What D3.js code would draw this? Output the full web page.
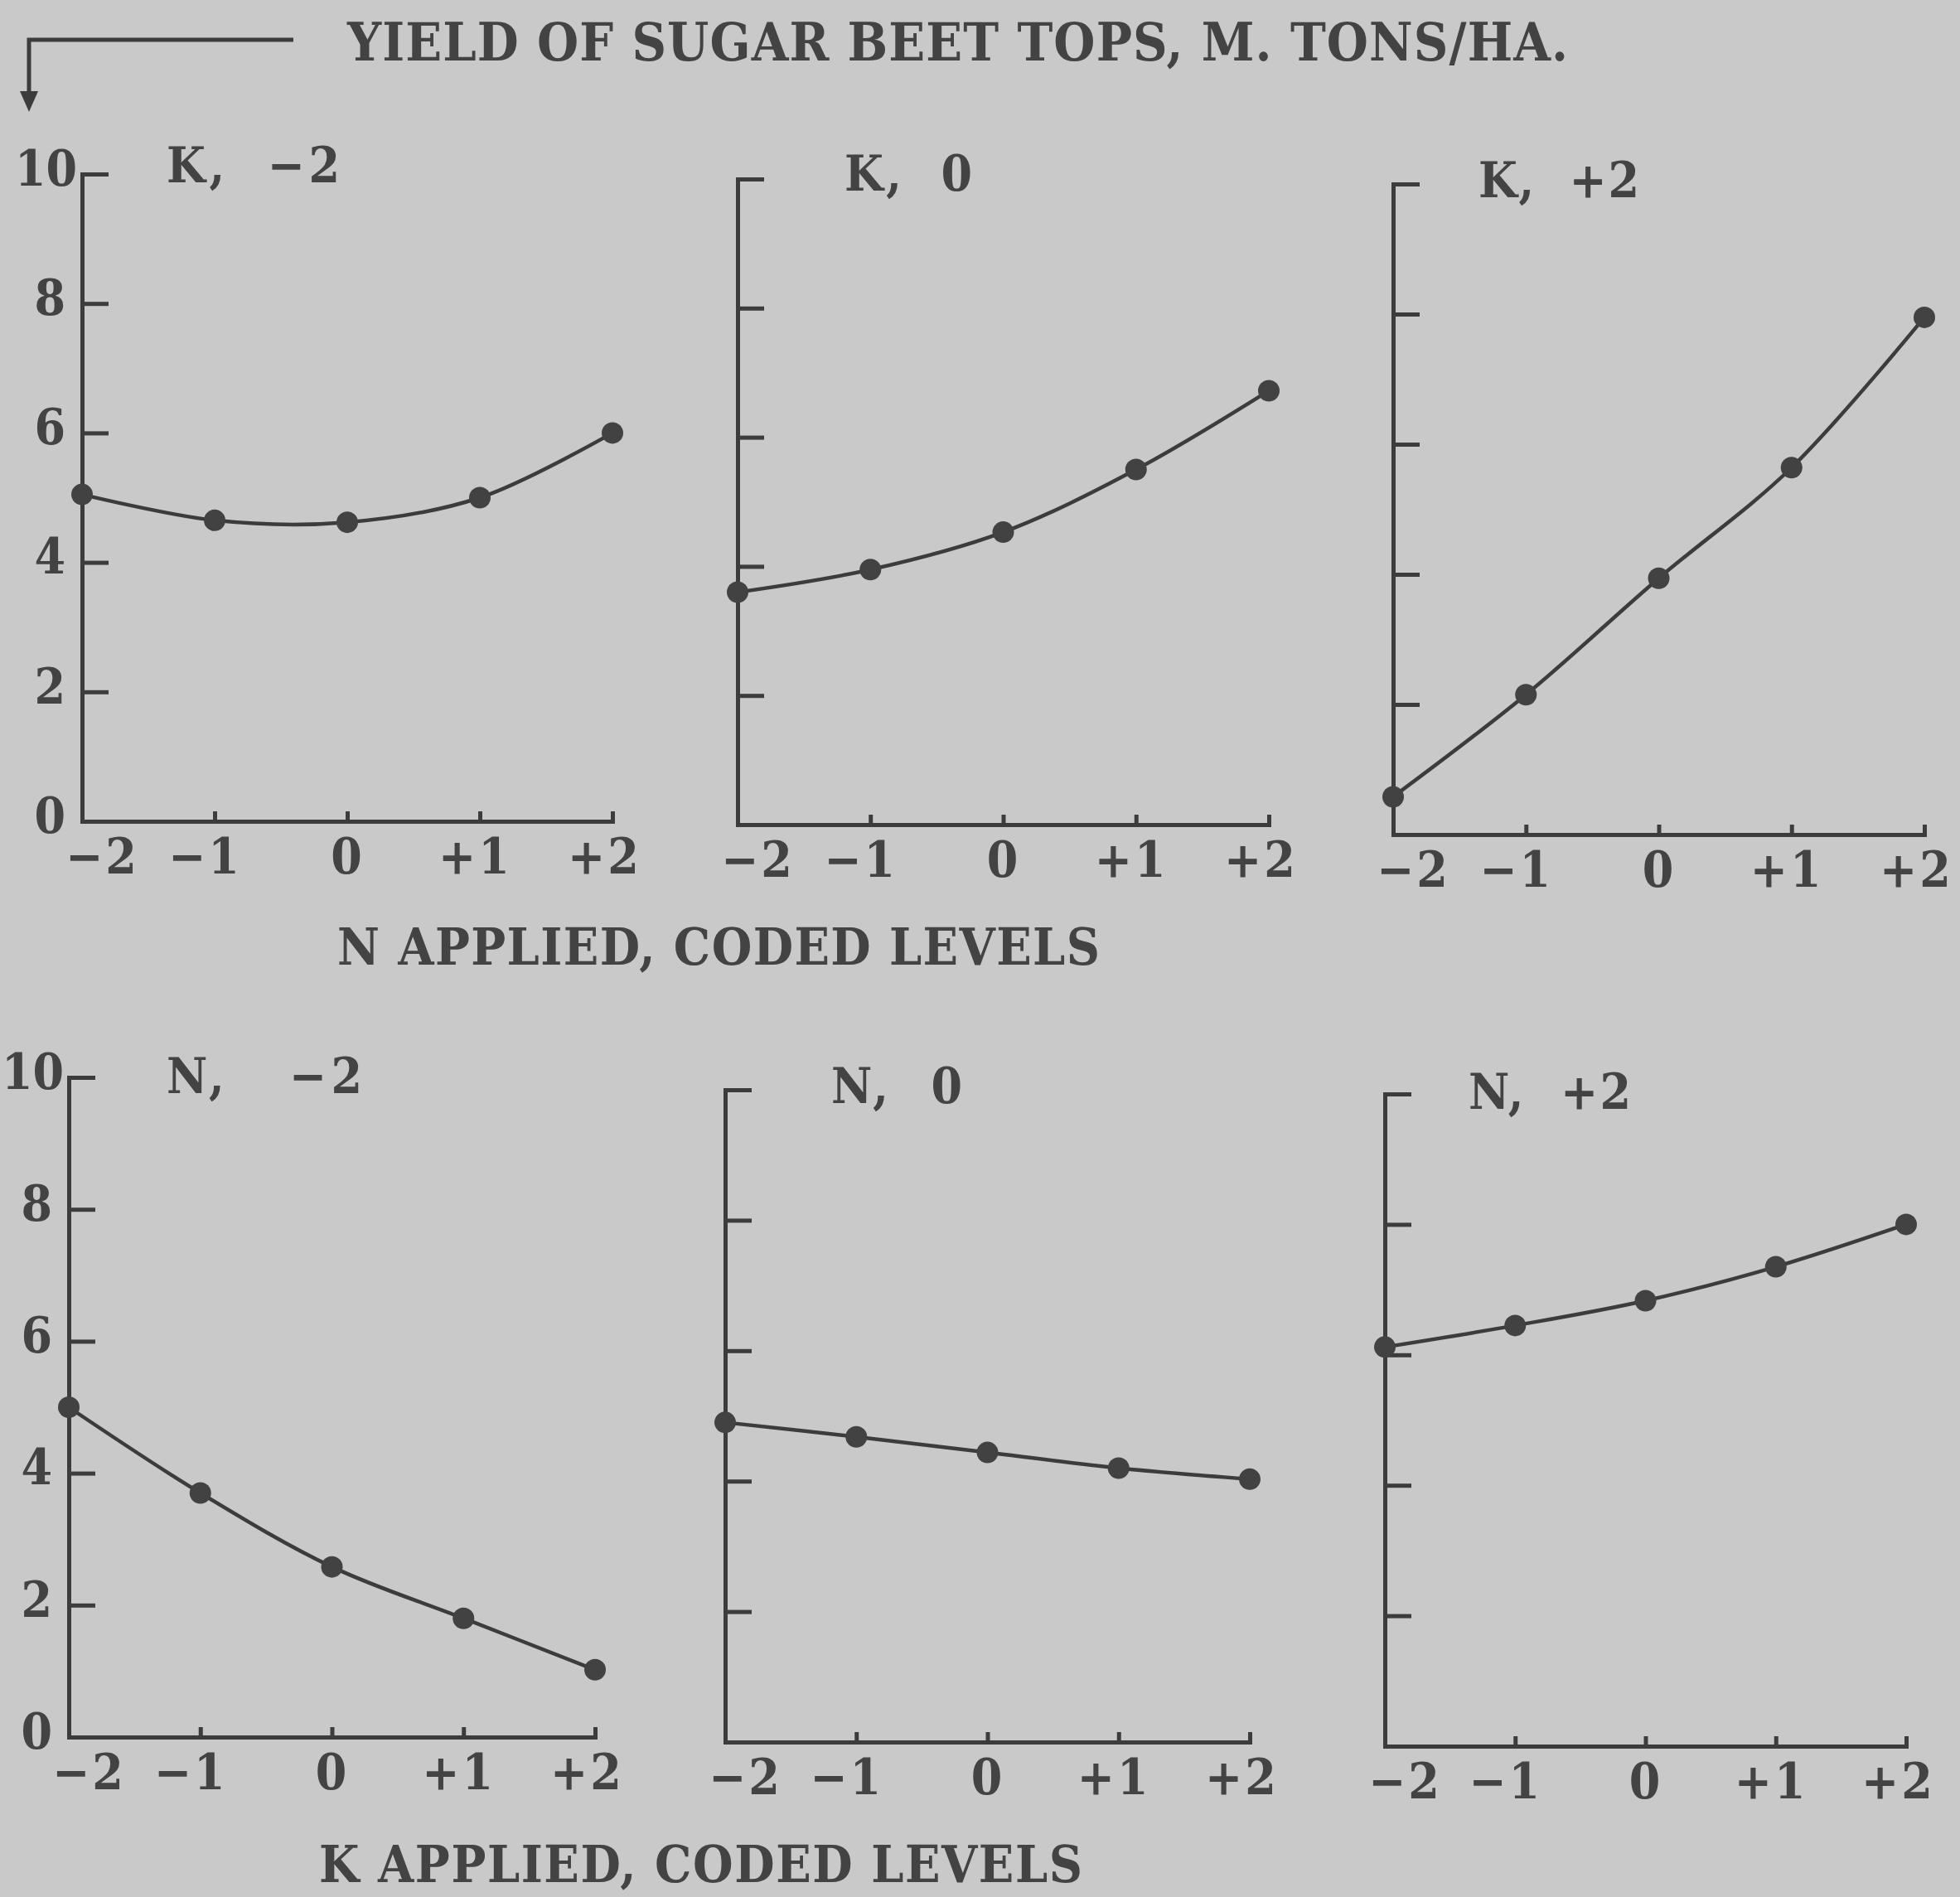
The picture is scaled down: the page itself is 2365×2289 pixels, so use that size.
<!DOCTYPE html>
<html lang="en">
<head>
  <meta charset="UTF-8" />
  <title>Yield of sugar beet tops</title>
  <script src="https://cdn.jsdelivr.net/npm/d3@7/dist/d3.min.js"></script>
  <style>
    body, html { margin: 0; padding: 0; background: #c9c9c9; }
    svg { display: block; }
    text { font-family: "DejaVu Serif Condensed", "DejaVu Serif", serif; font-stretch: condensed;
           font-weight: bold; fill: #434343; }
    .axis path, .axis line { stroke: #3c3c3c; stroke-width: 5; }
    .axis text { font-size: 60px; letter-spacing: 3px; font-family: "DejaVu Serif Condensed", "DejaVu Serif", serif; }
    .axis.yax text { letter-spacing: 0; }
  </style>
</head>
<body>
  <svg id="chart" width="2365" height="2289"></svg>

  <script>
    // Coded fertiliser levels on the x axis
    const levels = [-2, -1, 0, 1, 2];
    const levelLabels = ["\u22122", "\u22121", "0", "+1", "+2"];
    const yTicks = [0, 2, 4, 6, 8, 10];

    // Yield of tops (m. tons/ha) vs N level, at fixed K
    const topsK_minus2 = [5.05, 4.65, 4.62, 5.0, 6.0];
    const topsK_0      = [3.6, 3.95, 4.53, 5.5, 6.72];
    const topsK_plus2  = [0.58, 2.15, 3.94, 5.64, 7.95];

    // Yield of tops vs K level, at fixed N
    const topsN_minus2 = [5.0, 3.7, 2.58, 1.8, 1.02];
    const topsN_0      = [4.9, 4.68, 4.44, 4.2, 4.03];
    const topsN_plus2  = [6.12, 6.45, 6.83, 7.35, 8.0];

    const panelTitles = ["K,  \u22122", "K,  0", "K,  +2", "N,   \u22122", "N,  0", "N,  +2"];
    const panelSeries = [topsK_minus2, topsK_0, topsK_plus2, topsN_minus2, topsN_0, topsN_plus2];

    // Frame of each panel: x of level -2 and +2, y of yield 0 and 10
    const frames = [
      { x0: 99,  x1: 739,  y0: 991,  y1: 210,  left: true },
      { x0: 890, x1: 1531, y0: 995,  y1: 216,  left: false },
      { x0: 1681, x1: 2322, y0: 1007, y1: 222, left: false },
      { x0: 83,  x1: 718,  y0: 2096, y1: 1300, left: true },
      { x0: 875, x1: 1508, y0: 2102, y1: 1315, left: false },
      { x0: 1671, x1: 2300, y0: 2107, y1: 1320, left: false }
    ];
    // start x, centre y and typed width of each panel heading
    const titleBox = [[201, 198, 209], [1019, 208, 154], [1784, 216, 194],
                      [201, 1297, 236], [1003, 1309, 158], [1772, 1316, 196]];
    const tickShift = [24, -12, 0, -6, -10];

    const svg = d3.select("#chart");
    const ink = "#3c3c3c";

    // Header with the bent arrow pointing down to the y axis
    svg.append("path")
      .attr("d", "M354,48 L35,48 L35,116")
      .attr("fill", "none").attr("stroke", ink).attr("stroke-width", 5);
    svg.append("path")
      .attr("d", "M24,110 L46,110 L35,135 Z")
      .attr("fill", ink);
    svg.append("text")
      .attr("x", 419).attr("y", 50).attr("dy", "0.36em")
      .attr("textLength", 1473).attr("lengthAdjust", "spacing")
      .style("font-size", "64px")
      .text("YIELD OF SUGAR BEET TOPS, M. TONS/HA.");

    const line = d3.line().curve(d3.curveCatmullRom.alpha(0.5));

    frames.forEach((f, i) => {
      const x = d3.scaleLinear().domain([-2, 2]).range([f.x0, f.x1]);
      const y = d3.scaleLinear().domain([0, 10]).range([f.y0, f.y1]);
      const g = svg.append("g");

      const ya = g.append("g").attr("class", "axis yax")
        .attr("transform", `translate(${f.x0},0)`)
        .call(d3.axisLeft(y).tickValues(yTicks).tickSizeInner(-32).tickSizeOuter(0)
          .tickPadding(20).tickFormat(d => f.left ? d : ""));
      ya.selectAll(".tick").filter(d => d === 0).select("line").remove();
      ya.selectAll(".tick text").attr("dy", "0.22em")
        .attr("dx", d => d === 10 ? 14 : 0);

      const xa = g.append("g").attr("class", "axis")
        .attr("transform", `translate(0,${f.y0})`)
        .call(d3.axisBottom(x).tickValues(levels).tickSizeInner(-12).tickSizeOuter(0)
          .tickPadding(20).tickFormat((d, j) => levelLabels[j]));
      xa.selectAll(".tick text").attr("dx", (d, j) => tickShift[j]);

      g.selectAll(".axis .domain").attr("stroke-linecap", "square");

      const pts = levels.map((l, j) => [x(l), y(panelSeries[i][j])]);
      g.append("path")
        .attr("d", line(pts))
        .attr("fill", "none").attr("stroke", ink).attr("stroke-width", 4.5);
      g.selectAll("circle").data(pts).join("circle")
        .attr("cx", d => d[0]).attr("cy", d => d[1]).attr("r", 13)
        .attr("fill", "#424242");

      const t = titleBox[i];
      g.append("text")
        .attr("x", t[0]).attr("y", t[1]).attr("dy", "0.36em")
        .attr("textLength", t[2]).attr("lengthAdjust", "spacing")
        .style("font-size", "60px").style("white-space", "pre")
        .text(panelTitles[i]);
    });

    // Shared x-axis captions
    svg.append("text")
      .attr("x", 407).attr("y", 1142).attr("dy", "0.36em")
      .attr("textLength", 920).attr("lengthAdjust", "spacing")
      .style("font-size", "62px")
      .text("N APPLIED, CODED LEVELS");
    svg.append("text")
      .attr("x", 385).attr("y", 2249).attr("dy", "0.36em")
      .attr("textLength", 921).attr("lengthAdjust", "spacing")
      .style("font-size", "62px")
      .text("K APPLIED, CODED LEVELS");
  </script>
</body>
</html>
